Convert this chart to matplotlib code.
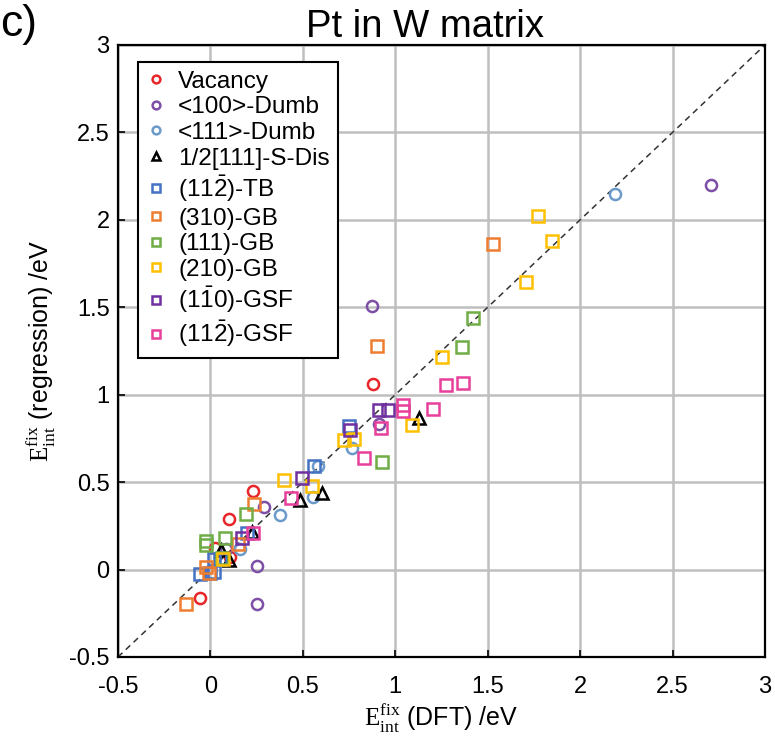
import matplotlib
matplotlib.use("Agg")
import matplotlib.pyplot as plt
import numpy as np

plt.rcParams["font.family"] = "Liberation Sans"
plt.rcParams["mathtext.fontset"] = "custom"
plt.rcParams["mathtext.rm"] = "Liberation Serif"
plt.rcParams["mathtext.sf"] = "Liberation Sans"

# DFT (x) vs regression (y) energies, eV
vac_x = [0.877, 0.229, 0.10, 0.025, 0.106, -0.054]
vac_y = [1.062, 0.448, 0.29, 0.126, 0.073, -0.162]

d100_x = [2.708, 0.874, 0.914, 0.29, 0.086, 0.25, 0.252]
d100_y = [2.20, 1.509, 0.83, 0.36, 0.116, 0.019, -0.196]

d111_x = [2.186, 0.766, 0.58, 0.553, 0.377, 0.158]
d111_y = [2.15, 0.693, 0.59, 0.416, 0.314, 0.119]

sdis_x = [1.13, 0.604, 0.483, 0.225, 0.058, 0.10]
sdis_y = [0.865, 0.435, 0.40, 0.215, 0.11, 0.057]

tb_x = [0.75, 0.56, 0.20, 0.018, 0.05, -0.054, 0.018, 0.0]
tb_y = [0.823, 0.59, 0.21, 0.06, 0.06, -0.025, -0.012, -0.02]

gb310_x = [1.528, 0.901, 0.237, 0.15, -0.025, -0.01, -0.131]
gb310_y = [1.864, 1.277, 0.375, 0.146, 0.016, -0.02, -0.196]

gb111_x = [1.42, 1.36, 0.928, 0.192, 0.081, -0.025, -0.025, 0.063]
gb111_y = [1.439, 1.271, 0.613, 0.319, 0.182, 0.163, 0.14, 0.067]

gb210_x = [1.771, 1.845, 1.705, 1.252, 1.09, 0.724, 0.775, 0.40, 0.551, 0.07]
gb210_y = [2.024, 1.881, 1.645, 1.218, 0.829, 0.743, 0.747, 0.51, 0.48, 0.06]

gsf110_x = [0.91, 0.958, 0.757, 0.497, 0.168]
gsf110_y = [0.913, 0.913, 0.797, 0.524, 0.183]

gsf112_x = [1.276, 1.366, 1.04, 1.04, 1.204, 0.924, 0.832, 0.438, 0.228]
gsf112_y = [1.058, 1.067, 0.943, 0.905, 0.919, 0.81, 0.639, 0.41, 0.21]

tick_vals = [-0.5, 0, 0.5, 1, 1.5, 2, 2.5, 3]
tick_text = ["-0.5", "0", "0.5", "1", "1.5", "2", "2.5", "3"]

series = [
    (vac_x, vac_y, "o", "#E8262A", "Vacancy"),
    (d100_x, d100_y, "o", "#7E4FA6", "<100>-Dumb"),
    (d111_x, d111_y, "o", "#6C9BCB", "<111>-Dumb"),
    (sdis_x, sdis_y, "^", "#000000", "1/2[111]-S-Dis"),
    (tb_x, tb_y, "s", "#4472C4", r"(11$\mathsf{\bar{2}}$)-TB"),
    (gb310_x, gb310_y, "s", "#ED7D31", "(310)-GB"),
    (gb111_x, gb111_y, "s", "#70AD47", "(111)-GB"),
    (gb210_x, gb210_y, "s", "#FFC000", "(210)-GB"),
    (gsf110_x, gsf110_y, "s", "#7030A0", r"(1$\mathsf{\bar{1}}$0)-GSF"),
    (gsf112_x, gsf112_y, "s", "#E8409A", r"(11$\mathsf{\bar{2}}$)-GSF"),
]

fig = plt.figure(figsize=(7.75, 7.42), dpi=100)
ax = fig.add_axes([0.1523, 0.1146, 0.8348, 0.8248])

ax.plot([-0.5, 3], [-0.5, 3], ls=(0, (4, 3)), color="#333333", lw=1.1, zorder=1)

for xs, ys, mk, col, lab in series:
    ms = 8.5 if mk == "^" else 8
    ax.plot(xs, ys, ls="none", marker=mk, ms=ms, mfc="none", mec=col,
            mew=1.8, label=lab, zorder=3)

ax.set_xlim(-0.5, 3)
ax.set_ylim(-0.5, 3)
ax.set_xticks(tick_vals)
ax.set_yticks(tick_vals)
ax.set_xticklabels(tick_text)
ax.set_yticklabels(tick_text)
ax.tick_params(direction="in", labelsize=17, length=5, width=1.2)
ax.tick_params(axis="x", pad=14)
ax.tick_params(axis="y", pad=6)
ax.grid(True, color="#BFBFBF", lw=1.8)
ax.set_axisbelow(True)
for s in ax.spines.values():
    s.set_linewidth(1.6)

ax.set_title("Pt in W matrix", fontsize=27.5, pad=3, x=0.475)
ax.set_xlabel(r"$\mathrm{E}_{\mathrm{int}}^{\mathrm{fix}}$ (DFT) /eV", fontsize=18, labelpad=2)
ax.set_ylabel(r"$\mathrm{E}_{\mathrm{int}}^{\mathrm{fix}}$ (regression) /eV", fontsize=18, labelpad=8)

leg = ax.legend(loc="upper left", bbox_to_anchor=(0.031, 0.972), borderaxespad=0,
                fontsize=17.5, markerscale=0.7, handlelength=0.8, handletextpad=0.5,
                labelspacing=0.15, borderpad=0.35, fancybox=False, framealpha=1)
leg.get_frame().set_edgecolor("black")
leg.get_frame().set_linewidth(1.5)

fig.text(0.0, 0.995, "c)", fontsize=32, ha="left", va="top")

fig.savefig("out.png", dpi=100)
